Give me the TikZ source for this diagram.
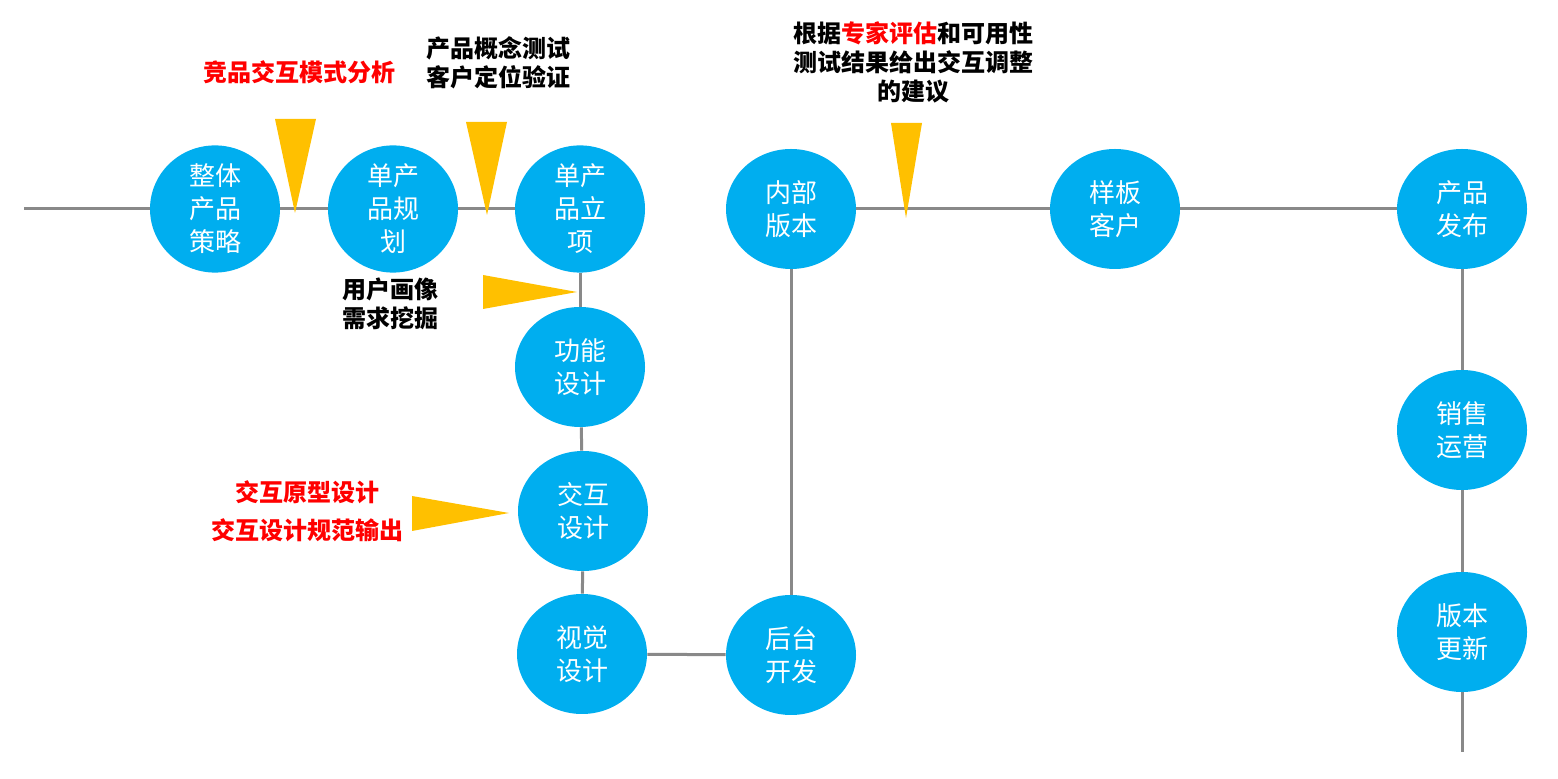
\documentclass[tikz,border=0pt]{standalone}
\usepackage{fontspec}
\setmainfont{Noto Sans CJK SC}
\usepackage{tikz}
\usetikzlibrary{shapes.geometric}

\definecolor{stageblue}{RGB}{0,174,239}
\definecolor{linegray}{RGB}{137,137,137}
\definecolor{flagyellow}{RGB}{255,192,0}
\definecolor{notered}{RGB}{255,0,0}

\begin{document}
\begin{tikzpicture}[
    x=0.5pt, y=-0.5pt,
    stage/.style={ellipse, fill=stageblue, minimum width=65pt, minimum height=60pt, inner sep=0pt,
                  align=center, text=white, font=\fontsize{13}{16.5}\selectfont},
    link/.style={draw=linegray, line width=1.5pt},
    note/.style={align=center, font=\fontsize{12}{14.5}\selectfont\bfseries},
    flag/.style={fill=flagyellow}
]
\useasboundingbox (0,0) rectangle (1558,779);

% stages
\node[stage] (zt) at (215,209) {整体\\产品\\策略};
\node[stage] (dg) at (393,209) {单产\\品规\\划};
\node[stage] (dl) at (580,209) {单产\\品立\\项};
\node[stage] (gn) at (580,367) {功能\\设计};
\node[stage] (jh) at (583,511) {交互\\设计};
\node[stage] (sj) at (582,654) {视觉\\设计};
\node[stage] (ht) at (791,655) {后台\\开发};
\node[stage] (nb) at (791,209) {内部\\版本};
\node[stage] (yb) at (1115,209) {样板\\客户};
\node[stage] (fb) at (1462,209) {产品\\发布};
\node[stage] (xs) at (1462,430) {销售\\运营};
\node[stage] (bb) at (1462,632) {版本\\更新};

\coordinate (start) at (24,209);
\coordinate (end) at (1462,752);

% connectors
\draw[link] (start) -- (zt);
\draw[link] (zt) -- (dg);
\draw[link] (dg) -- (dl);
\draw[link] (dl) -- (gn);
\draw[link] (gn) -- (jh);
\draw[link] (jh) -- (sj);
\draw[link] (sj) -- (ht);
\draw[link] (ht) -- (nb);
\draw[link] (nb) -- (yb);
\draw[link] (yb) -- (fb);
\draw[link] (fb) -- (xs);
\draw[link] (xs) -- (bb);
\draw[link] (bb) -- (end);

% pointers
\fill[flag] (275,119) -- (316,119) -- (295,213) -- cycle;
\fill[flag] (466,122) -- (507,122) -- (487,215) -- cycle;
\fill[flag] (483,275) -- (483,309) -- (577,292) -- cycle;
\fill[flag] (412,496) -- (412,531) -- (509,513) -- cycle;
\fill[flag] (891,123) -- (922,123) -- (906,218) -- cycle;

% notes
\node[note, text=notered] (jp) at (299,72) {竞品交互模式分析};
\node[note] (cp) at (498,63) {产品概念测试\\客户定位验证};
\node[note] (yh) at (390,304) {用户画像\\需求挖掘};
\node[note, text=notered, font=\fontsize{12}{19}\selectfont\bfseries] (yx) at (307,511) {交互原型设计\\交互设计规范输出};
\node[note] (jy) at (913,62) {根据\textcolor{notered}{专家评估}和可用性\\测试结果给出交互调整\\的建议};
\end{tikzpicture}
\end{document}
